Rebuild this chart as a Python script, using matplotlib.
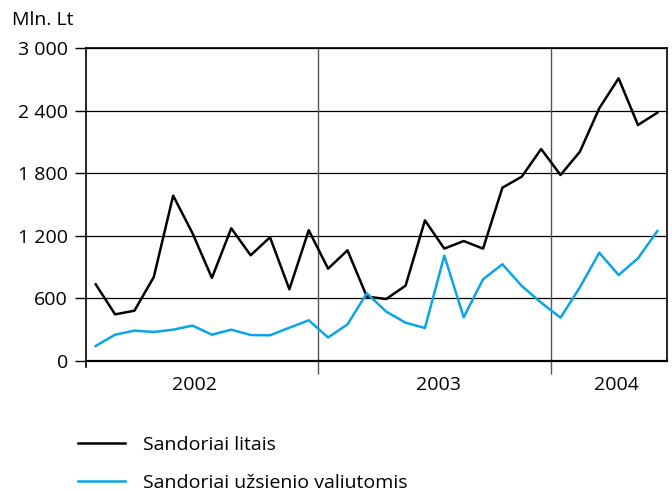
import matplotlib.pyplot as plt
from matplotlib.ticker import FuncFormatter, FixedLocator

plt.rcParams['font.family'] = ['Open Sans', 'DejaVu Sans']

# monthly values, Jan 2002 - Jun 2004 (Mln. Lt)
litais = [735, 447, 482, 805, 1585, 1224, 796, 1272, 1013, 1186, 687, 1253,
          885, 1061, 617, 594, 722, 1348, 1077, 1150, 1077, 1661, 1767, 2032,
          1783, 2006, 2422, 2710, 2262, 2380]
valiutomis = [144, 252, 291, 278, 300, 339, 252, 300, 249, 246, 319, 390,
              225, 351, 649, 473, 367, 316, 1010, 419, 783, 927, 719, 559,
              415, 706, 1038, 824, 984, 1246]
years = ["2002", "2003", "2004"]
year_pos = [5.1, 17.7, 26.9]
year_bounds = [-0.5, 11.5, 23.5]
y_ticks = [0, 600, 1200, 1800, 2400, 3000]

fig = plt.figure(figsize=(6.72, 4.91), dpi=100)
ax = fig.add_axes([0.128, 0.2648, 0.8646, 0.6374])

x = list(range(len(litais)))
ax.plot(x, litais, color="black", lw=1.8, label="Sandoriai litais", zorder=3)
ax.plot(x, valiutomis, color="#0aa5e6", lw=1.8, label="Sandoriai užsienio valiutomis", zorder=3)

ax.set_xlim(-0.5, 29.5)
ax.set_ylim(0, 3000)
ax.set_yticks(y_ticks)
ax.yaxis.set_major_formatter(FuncFormatter(lambda v, p: f"{int(v):,}".replace(",", " ")))
ax.grid(axis="y", color="black", lw=0.9)
for b in year_bounds[1:]:
    ax.axvline(b, color="#555555", lw=1.0, zorder=2)

ax.xaxis.set_major_locator(FixedLocator(year_bounds[1:]))
ax.set_xticklabels([])
ax.tick_params(axis="x", which="major", length=9, width=1.0, color="#555555", direction="out")
ax.xaxis.set_minor_locator(FixedLocator(year_pos))
ax.xaxis.set_minor_formatter(FuncFormatter(lambda v, p: years[year_pos.index(v)] if v in year_pos else ""))
ax.tick_params(axis="x", which="minor", length=0, pad=11, labelsize=14)
ax.tick_params(axis="y", length=8, width=1.0, pad=5, labelsize=14, direction="out")

for s in ax.spines.values():
    s.set_linewidth(1.2)
ax.spines["bottom"].set_linewidth(1.6)
ax.spines["left"].set_bounds(-60, 3000)

fig.text(0.018, 0.96, "Mln. Lt", fontsize=14, va="center")

fig.legend(loc="upper left", bbox_to_anchor=(0.116, 0.113), frameon=False,
           fontsize=14, handlelength=2.42, handletextpad=0.93, labelspacing=1.05,
           borderpad=0, borderaxespad=0)

fig.savefig("out.png", dpi=100)
